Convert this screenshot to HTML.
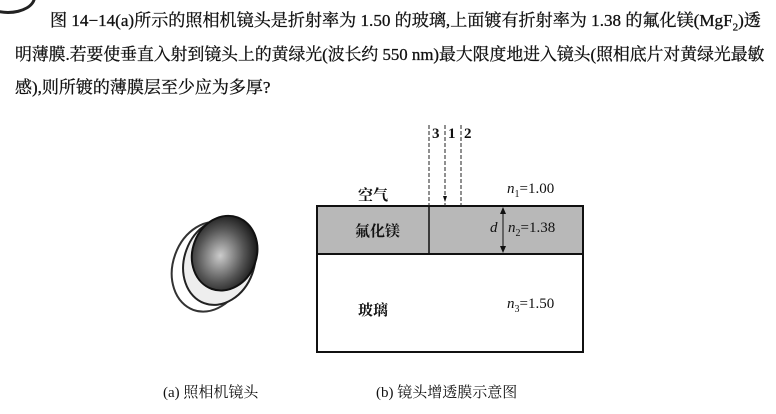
<!DOCTYPE html>
<html><head><meta charset="utf-8"><style>
body{margin:0;width:776px;height:414px;background:#fff;position:relative;overflow:hidden;font-family:"Liberation Serif","Noto Serif CJK SC","Noto Sans CJK SC",serif;color:#111}
.t{position:absolute;font-size:17px;white-space:nowrap;line-height:20px;font-weight:normal;transform-origin:0 0;-webkit-text-stroke:0.3px #111}
.l{position:absolute;font-size:14px;white-space:nowrap;font-weight:bold}
</style></head><body>
<div style="position:absolute;left:-20px;top:-20px;width:50px;height:28px;border:3px solid #222;border-radius:50%"></div>
<div class="t" style="left:50px;top:11px;transform:scaleX(1.005)">图 14−14(a)所示的照相机镜头是折射率为 1.50 的玻璃,上面镀有折射率为 1.38 的氟化镁(MgF<sub style="font-size:11px">2</sub>)透</div>
<div class="t" style="left:15px;top:45px;transform:scaleX(0.99)">明薄膜.若要使垂直入射到镜头上的黄绿光(波长约 550 nm)最大限度地进入镜头(照相底片对黄绿光最敏</div>
<div class="t" style="left:15px;top:78px">感),则所镀的薄膜层至少应为多厚?</div>

<svg style="position:absolute;left:0;top:0" width="776" height="414">
<defs>
<radialGradient id="g" cx="45%" cy="55%" r="60%"><stop offset="0" stop-color="#ccc"/><stop offset="0.6" stop-color="#555"/><stop offset="1" stop-color="#111"/></radialGradient>
</defs>
<g transform="rotate(20 220 260)">
<ellipse cx="212" cy="270" rx="36" ry="46" fill="none" stroke="#333" stroke-width="2"/>
<ellipse cx="220" cy="262" rx="35" ry="44" fill="#eee" stroke="#222" stroke-width="2"/>
<ellipse cx="222" cy="252" rx="32" ry="38" fill="url(#g)" stroke="#111" stroke-width="2"/>
</g>
<rect x="317" y="206" width="266" height="48" fill="#b8b8b8"/>
<rect x="317" y="206" width="266" height="146" fill="none" stroke="#111" stroke-width="2"/>
<line x1="317" y1="254" x2="583" y2="254" stroke="#111" stroke-width="2"/>
<line x1="429" y1="206" x2="429" y2="254" stroke="#111" stroke-width="1.5"/>
<g stroke="#222" stroke-width="1" stroke-dasharray="4,2">
<line x1="429" y1="125" x2="429" y2="206"/>
<line x1="445" y1="125" x2="445" y2="206"/>
<line x1="461" y1="125" x2="461" y2="206"/>
</g>
<line x1="503" y1="208" x2="503" y2="252" stroke="#111" stroke-width="1"/>
<path d="M500,214 L503,207 L506,214Z M500,246 L503,253 L506,246Z" fill="#111"/>
<path d="M443,196 L445,202 L447,196Z" fill="#111"/>
</svg>
<div class="l" style="left:432px;top:126px;font-size:15px">3</div>
<div class="l" style="left:448px;top:126px;font-size:15px">1</div>
<div class="l" style="left:464px;top:126px;font-size:15px">2</div>
<div class="l" style="left:358px;top:184px;font-size:15px">空气</div>
<div class="l" style="left:507px;top:181px;font-size:15px;font-weight:normal"><i>n</i><sub style="font-size:10px">1</sub>=1.00</div>
<div class="l" style="left:355px;top:220px;font-size:15px">氟化镁</div>
<div class="l" style="left:490px;top:220px;font-size:15px;font-weight:normal"><i>d</i></div>
<div class="l" style="left:508px;top:220px;font-size:15px;font-weight:normal"><i>n</i><sub style="font-size:10px">2</sub>=1.38</div>
<div class="l" style="left:358px;top:299px;font-size:15px">玻璃</div>
<div class="l" style="left:507px;top:296px;font-size:15px;font-weight:normal"><i>n</i><sub style="font-size:10px">3</sub>=1.50</div>
<div class="l" style="left:163px;top:381px;font-size:15px;font-weight:normal">(a) 照相机镜头</div>
<div class="l" style="left:376px;top:381px;font-size:15px;font-weight:normal">(b) 镜头增透膜示意图</div>
</body></html>
